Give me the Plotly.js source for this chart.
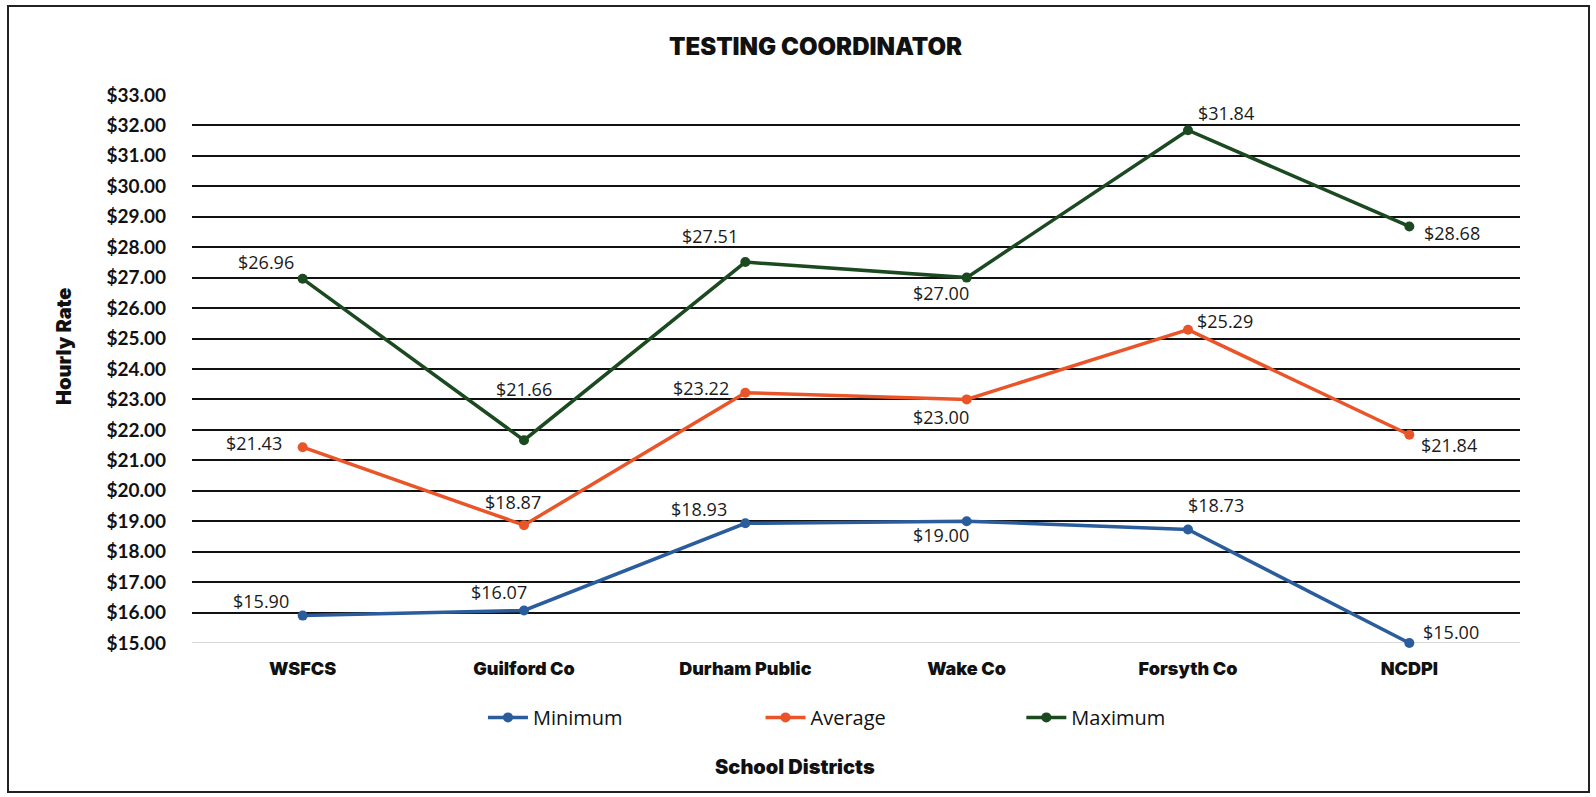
<!DOCTYPE html>
<html>
<head>
<meta charset="utf-8">
<script src="https://cdn.plot.ly/plotly-3.0.1.min.js"></script>
<style>
  html, body { margin: 0; padding: 0; background: #fff; }
  #frame { position: absolute; left: 7px; top: 5px; width: 1583px; height: 788px; border: 2px solid #222; box-sizing: border-box; pointer-events: none; }
  #chart { position: absolute; left: 0; top: 0; width: 1596px; height: 797px; }
</style>
</head>
<body>
<div id="chart"></div>
<div id="frame"></div>
<script>
const districts = ["WSFCS", "Guilford Co", "Durham Public", "Wake Co", "Forsyth Co", "NCDPI"];
const minimum = [15.90, 16.07, 18.93, 19.00, 18.73, 15.00];
const average = [21.43, 18.87, 23.22, 23.00, 25.29, 21.84];
const maximum = [26.96, 21.66, 27.51, 27.00, 31.84, 28.68];
const yTicks = [15, 16, 17, 18, 19, 20, 21, 22, 23, 24, 25, 26, 27, 28, 29, 30, 31, 32, 33];

// data-label offsets from each point, in pixels [dx, dy(down)]
const minOffsets = [[-42, -15], [-25, -18], [-46, -14], [-26, 14], [28, -24], [42, -11]];
const avgOffsets = [[-49, -4], [-11, -23], [-44, -5], [-26, 18], [37, -9], [40, 10]];
const maxOffsets = [[-37, -17], [0, -51], [-35, -26], [-26, 15], [38, -17], [43, 7]];

const fmt = v => "$" + v.toFixed(2);
const labelFont = { family: "Open Sans, Noto Sans, sans-serif", size: 18, color: "#1a1a1a" };

function series(name, vals, color, legendId) {
  return {
    type: "scatter", mode: "lines+markers", name: name,
    x: districts, y: vals,
    line: { color: color, width: 3.5 },
    marker: { color: color, size: 10 },
    cliponaxis: false, hoverinfo: "skip", legend: legendId
  };
}

function labels(vals, offsets) {
  return vals.map((v, i) => ({
    x: districts[i], y: v, xref: "x", yref: "y", text: fmt(v), showarrow: false,
    xanchor: "center", yanchor: "middle",
    xshift: offsets[i][0], yshift: -offsets[i][1], font: labelFont
  }));
}

const data = [
  series("Minimum", minimum, "#2B5C9C", "legend"),
  series("Average", average, "#EA5429", "legend2"),
  series("Maximum", maximum, "#1C4A20", "legend3")
];

const heavy = "Inter, Lato, Roboto, sans-serif";
const legendFont = { family: "Open Sans, sans-serif", size: 20, color: "#111" };
function legendAt(x) {
  return { orientation: "h", x: x, xanchor: "left", y: -0.100, yanchor: "top",
           font: legendFont, bgcolor: "rgba(0,0,0,0)", itemwidth: 40 };
}

const layout = {
  width: 1596, height: 797,
  margin: { l: 192, r: 76, t: 94, b: 154 },
  paper_bgcolor: "#fff", plot_bgcolor: "#fff",
  title: { text: "TESTING COORDINATOR", x: 0.511, xref: "container", xanchor: "center", y: 46, yref: "container", yanchor: "middle",
           font: { family: heavy, size: 24, color: "#111", weight: 900 } },
  xaxis: {
    type: "category", range: [-0.5, 5.5], showgrid: false, zeroline: false,
    showline: false, ticks: "", ticklabelstandoff: 13,
    tickfont: { family: heavy, size: 18, color: "#111", weight: 900 },
    automargin: false, fixedrange: true
  },
  yaxis: {
    range: [15, 33.03], tickvals: yTicks, ticktext: yTicks.map(v => "$" + v.toFixed(2)),
    showgrid: true, gridcolor: "#111", gridwidth: 2, zeroline: false,
    showline: false, ticks: "", ticklabelstandoff: 25,
    tickfont: { family: "Lato, sans-serif", size: 19, color: "#111", weight: 700 },
    automargin: false, fixedrange: true
  },
  shapes: [
    { type: "line", xref: "paper", yref: "y", x0: 0, x1: 1, y0: 15, y1: 15, line: { color: "#d9d9d9", width: 2 }, layer: "below" }
  ],
  annotations: [
    ...labels(minimum, minOffsets),
    ...labels(average, avgOffsets),
    ...labels(maximum, maxOffsets),
    { text: "School Districts", xref: "paper", yref: "paper", x: (795 - 192) / 1328, y: -(767 - 643) / 549,
      xanchor: "center", yanchor: "middle", showarrow: false,
      font: { family: heavy, size: 20, color: "#111", weight: 900 } },
    { text: "Hourly Rate", xref: "paper", yref: "paper", x: (64 - 192) / 1328, y: (643 - 346) / 549,
      xanchor: "center", yanchor: "middle", showarrow: false, textangle: -90,
      font: { family: heavy, size: 20, color: "#111", weight: 900 } }
  ],
  showlegend: true,
  legend: legendAt(0.2191),
  legend2: legendAt(0.4281),
  legend3: legendAt(0.6245)
};

Plotly.newPlot("chart", data, layout, { displayModeBar: false, staticPlot: true });
</script>
</body>
</html>
